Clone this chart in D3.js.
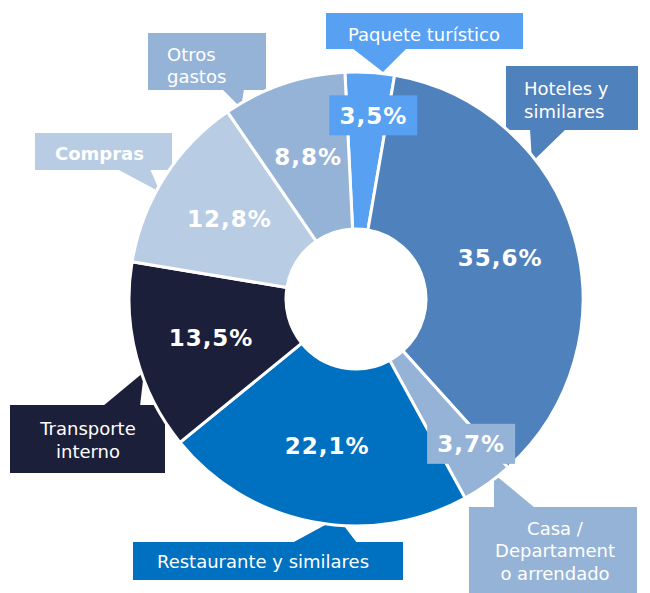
<!DOCTYPE html>
<html>
<head>
<meta charset="utf-8">
<script src="https://cdn.jsdelivr.net/npm/d3@7/dist/d3.min.js"></script>
<style>
  body { margin: 0; background: #fff; }
  svg { display: block; }
  text { font-family: "DejaVu Sans", Verdana, sans-serif; }
</style>
</head>
<body>
<div id="chart"></div>
<script>
// data
var categories = ["Paquete turístico", "Hoteles y similares", "Casa / Departamento arrendado",
                  "Restaurante y similares", "Transporte interno", "Compras", "Otros gastos"];
var values = [3.5, 35.6, 3.7, 22.1, 13.5, 12.8, 8.8];
var labelLines = [
    ["Paquete turístico"],
    ["Hoteles y", "similares"],
    ["Casa /", "Departament", "o arrendado"],
    ["Restaurante y similares"],
    ["Transporte", "interno"],
    ["Compras"],
    ["Otros", "gastos"]
];
var colors = ["#58a1f2", "#4f81bd", "#95b3d7", "#0070c0", "#1c1f3a", "#b8cce4", "#95b3d7"];

function init() {
    var w = 650, h = 593;
    var cx = 356, cy = 299;
    var outerR = 227, innerR = 70;

    // callout boxes (annotation layout)
    var callouts = [
        {box: [326, 13, 197, 36], ptr: [[352, 48], [407, 48], [383, 72]], anchor: "middle", tx: 424, ty: [41], bold: false, off: [6, 1]},
        {box: [506, 66, 132, 64], ptr: [[530, 129], [566, 129], [532, 162]], anchor: "start", tx: 524, ty: [95, 118], bold: false},
        {box: [469, 507, 168, 90], ptr: [[494, 508], [535, 508], [494, 474]], anchor: "middle", tx: 555, ty: [535, 557, 580], bold: false, off: [8, -6]},
        {box: [133, 542, 270, 38], ptr: [[292, 543], [357, 543], [338, 518]], anchor: "middle", tx: 263, ty: [568], bold: false},
        {box: [10, 405, 155, 68], ptr: [[103, 406], [140, 406], [144, 372]], anchor: "middle", tx: 88, ty: [435, 458], bold: false},
        {box: [35, 133, 137, 37], ptr: [[117, 169], [150, 169], [160, 192]], anchor: "start", tx: 55, ty: [160], bold: true},
        {box: [148, 33, 118, 57], ptr: [[222, 89], [244, 89], [241, 108]], anchor: "start", tx: 167, ty: [61, 83], bold: false}
    ];

    var svg = d3.select("#chart")
        .append("svg")
        .attr("width", w)
        .attr("height", h);

    var fmt = d3.formatLocale({decimal: ",", thousands: ".", grouping: [3], currency: ["", ""]}).format(".1f");

    var pie = d3.pie()
        .sort(null)
        .value(function(d) { return d; })
        .startAngle(-2.8 * Math.PI / 180)
        .endAngle(-2.8 * Math.PI / 180 + 2 * Math.PI);

    var arcs = pie(values);

    var arc = d3.arc().innerRadius(innerR).outerRadius(outerR);
    var labelArc = d3.arc().innerRadius(150).outerRadius(150);
    var smallArc = d3.arc().innerRadius(185).outerRadius(185);

    // callouts behind the pie
    var co = svg.append("g").selectAll("g")
        .data(callouts)
        .enter()
        .append("g");

    co.append("rect")
        .attr("x", function(d) { return d.box[0]; })
        .attr("y", function(d) { return d.box[1]; })
        .attr("width", function(d) { return d.box[2]; })
        .attr("height", function(d) { return d.box[3]; })
        .attr("fill", function(d, i) { return colors[i]; });

    co.append("polygon")
        .attr("points", function(d) { return d.ptr.map(function(p) { return p.join(","); }).join(" "); })
        .attr("fill", function(d, i) { return colors[i]; });

    co.each(function(d, i) {
        var g = d3.select(this);
        labelLines[i].forEach(function(line, j) {
            g.append("text")
                .attr("x", d.tx)
                .attr("y", d.ty[j])
                .attr("text-anchor", d.anchor)
                .attr("font-size", "18px")
                .attr("font-weight", d.bold ? "bold" : "normal")
                .attr("fill", "#ffffff")
                .text(line);
        });
    });

    var pg = svg.append("g").attr("transform", "translate(" + cx + "," + cy + ")");

    pg.selectAll("path")
        .data(arcs)
        .enter()
        .append("path")
        .attr("d", arc)
        .attr("fill", function(d, i) { return colors[i]; })
        .attr("stroke", "#ffffff")
        .attr("stroke-width", 3);

    var lbl = pg.selectAll("g.lbl")
        .data(arcs)
        .enter()
        .append("g")
        .attr("class", "lbl")
        .attr("transform", function(d) {
            var c = (d.data < 5 ? smallArc : labelArc).centroid(d);
            var o = callouts[d.index].off || [0, 0];
            return "translate(" + (c[0] + o[0]) + "," + (c[1] + o[1]) + ")";
        });

    lbl.filter(function(d) { return d.data < 5; })
        .append("rect")
        .attr("x", -44)
        .attr("y", -20)
        .attr("width", 88)
        .attr("height", 40)
        .attr("fill", function(d) { return colors[d.index]; });

    lbl.append("text")
        .attr("text-anchor", "middle")
        .attr("dy", "0.36em")
        .attr("font-size", "23px")
        .attr("font-weight", "bold")
        .attr("letter-spacing", "1px")
        .attr("fill", "#ffffff")
        .text(function(d) { return fmt(d.data) + "%"; });
}

window.onload = init;
</script>
</body>
</html>
